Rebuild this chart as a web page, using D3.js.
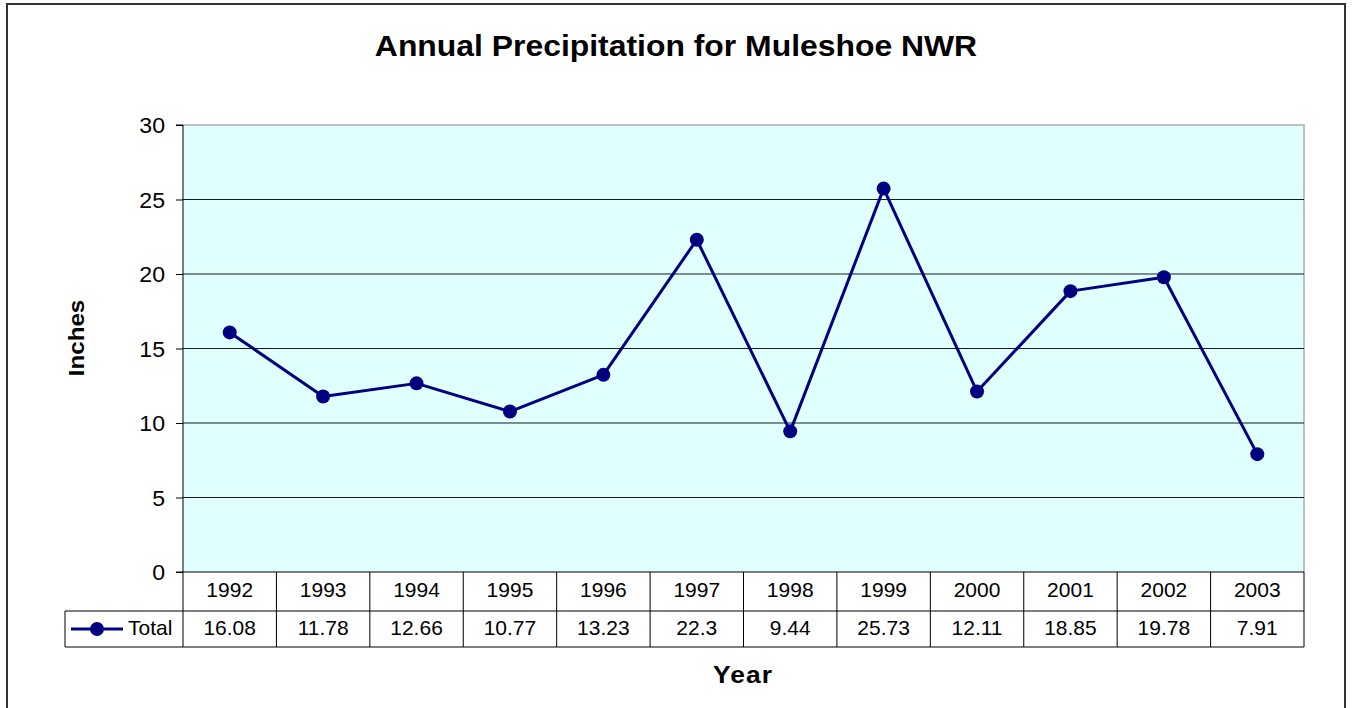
<!DOCTYPE html>
<html><head><meta charset="utf-8">
<script src="https://cdn.jsdelivr.net/npm/d3@7"></script>
<style>
html,body{margin:0;padding:0;background:#fff;}
text{font-family:"Liberation Sans",Arial,sans-serif;}
</style></head>
<body>
<svg id="chart" width="1352" height="708"></svg>
<script>
const years = ["1992","1993","1994","1995","1996","1997","1998","1999","2000","2001","2002","2003"];
const totals = [16.08,11.78,12.66,10.77,13.23,22.3,9.44,25.73,12.11,18.85,19.78,7.91];
const totalLabels = ["16.08","11.78","12.66","10.77","13.23","22.3","9.44","25.73","12.11","18.85","19.78","7.91"];
const yTicks = [0,5,10,15,20,25,30];
const seriesName = "Total";
const title = "Annual Precipitation for Muleshoe NWR";
const yTitle = "Inches";
const xTitle = "Year";

const svg = d3.select("#chart");
const L = 183, R = 1304, T = 125, B = 572;
const row1 = 611, row2 = 647, tableLeft = 65;
const navy = "#000080";
const SX = 1.1;

// outer border
svg.append("rect").attr("x",7).attr("y",4).attr("width",1338).attr("height",720)
  .attr("fill","#fff").attr("stroke","#333").attr("stroke-width",2);

const x = d3.scaleBand().domain(years).range([L,R]).padding(0);
const y = d3.scaleLinear().domain([0,30]).range([B,T]);

// plot background
svg.append("rect").attr("x",L).attr("y",T).attr("width",R-L).attr("height",B-T).attr("fill","#E0FFFF");
// plot border top/right
svg.append("path").attr("d",`M${L},${T}H${R}V${B}`).attr("fill","none").attr("stroke","#c0c0c0").attr("stroke-width",2);

// gridlines
svg.append("g").selectAll("line").data(yTicks.filter(d=>d>0 && d<30)).join("line")
  .attr("x1",L).attr("x2",R).attr("y1",d=>y(d)).attr("y2",d=>y(d))
  .attr("stroke","#1a1a1a").attr("stroke-width",1);

// y axis
const yAxis = svg.append("g").attr("transform",`translate(${L},0)`)
  .call(d3.axisLeft(y).tickValues(yTicks).tickSize(7).tickPadding(6));
yAxis.select(".domain").attr("stroke","#000").attr("d",`M-7,${T}H0V${row2}`);
yAxis.selectAll(".tick line").attr("stroke","#000");
yAxis.selectAll(".tick text").attr("font-size",22).attr("fill","#000")
  .attr("font-family","Liberation Sans, Arial, sans-serif")
  .attr("dy","0.35em").attr("x",null)
  .attr("transform",`translate(-18,0) scale(1.05,1)`);

// x axis line
svg.append("line").attr("x1",L-7).attr("x2",R).attr("y1",B).attr("y2",B).attr("stroke","#000");

// table lines
const tg = svg.append("g").attr("stroke","#000").attr("stroke-width",1);
tg.append("line").attr("x1",tableLeft).attr("x2",R).attr("y1",row1).attr("y2",row1);
tg.append("line").attr("x1",tableLeft).attr("x2",R).attr("y1",row2).attr("y2",row2);
tg.append("line").attr("x1",tableLeft).attr("x2",tableLeft).attr("y1",row1).attr("y2",row2);
tg.selectAll("line.v").data(years).join("line").attr("class","v")
  .attr("x1",d=>x(d)+x.bandwidth()).attr("x2",d=>x(d)+x.bandwidth())
  .attr("y1",B).attr("y2",row2);

// table texts
const TS = 1.05;
svg.append("g").selectAll("text").data(years).join("text")
  .attr("transform",d=>`translate(${x(d)+x.bandwidth()/2},597) scale(${TS},1)`)
  .attr("text-anchor","middle").attr("font-size",20).attr("fill","#000").text(d=>d);
svg.append("g").selectAll("text").data(totalLabels).join("text")
  .attr("transform",(d,i)=>`translate(${x(years[i])+x.bandwidth()/2},635) scale(${TS},1)`)
  .attr("text-anchor","middle").attr("font-size",20).attr("fill","#000").text(d=>d);

// legend key
const ly = (row1+row2)/2;
svg.append("line").attr("x1",71).attr("x2",123).attr("y1",ly).attr("y2",ly).attr("stroke",navy).attr("stroke-width",3);
svg.append("circle").attr("cx",97).attr("cy",ly).attr("r",7).attr("fill",navy);
svg.append("text").attr("transform",`translate(128,635) scale(${TS},1)`).attr("font-size",20).attr("fill","#000").text(seriesName);

// line + markers
const cx = d => x(d)+x.bandwidth()/2;
svg.append("path").datum(totals)
  .attr("d",d3.line().x((d,i)=>cx(years[i])).y(d=>y(d)))
  .attr("fill","none").attr("stroke",navy).attr("stroke-width",3).attr("stroke-linejoin","round");
svg.append("g").selectAll("circle").data(totals).join("circle")
  .attr("cx",(d,i)=>cx(years[i])).attr("cy",d=>y(d)).attr("r",7).attr("fill",navy);

// titles
svg.append("text").attr("transform",`translate(676,56) scale(${SX},1)`).attr("text-anchor","middle")
  .attr("font-size",29).attr("font-weight","bold").attr("fill","#000").text(title);
svg.append("text").attr("transform",`translate(84,338) rotate(-90) scale(${SX},1)`).attr("text-anchor","middle")
  .attr("font-size",22).attr("font-weight","bold").attr("fill","#000").text(yTitle);
svg.append("text").attr("transform",`translate(743,683) scale(${SX},1)`).attr("text-anchor","middle")
  .attr("font-size",24).attr("font-weight","bold").attr("letter-spacing","1px").attr("fill","#000").text(xTitle);
</script>
</body></html>
